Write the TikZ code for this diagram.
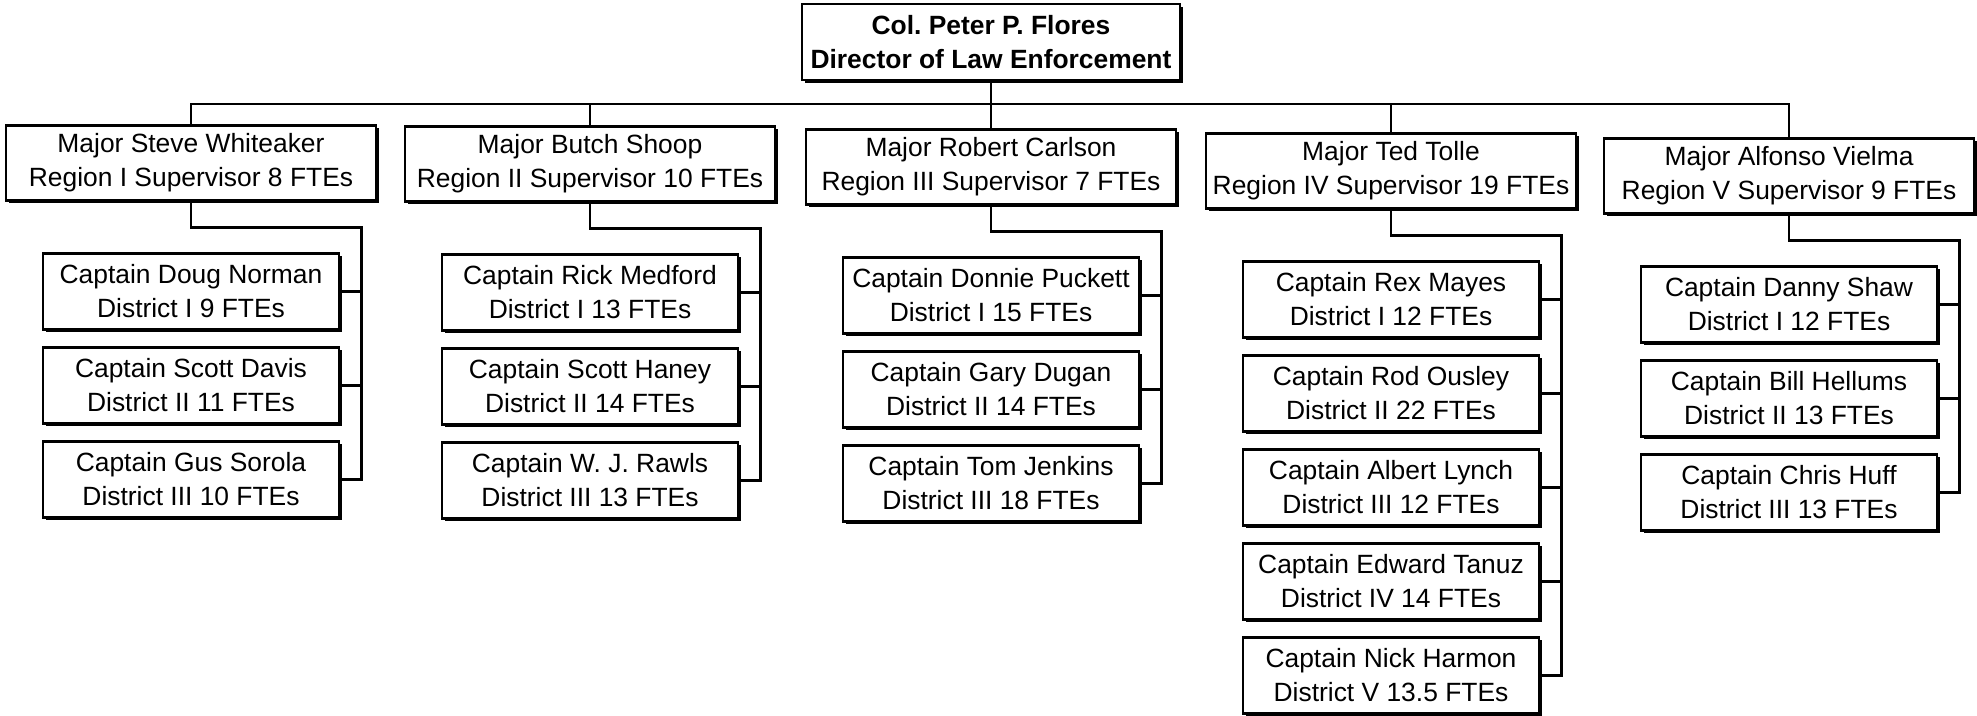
\documentclass[tikz,border=0pt]{standalone}
\usepackage{fontspec}
\setmainfont{Liberation Sans}
\usepackage{tikz}
\usetikzlibrary{positioning, shadows, calc}
\frenchspacing
\tikzset{
    boss/.style={rectangle, draw=black, fill=white, line width=1.4pt, minimum width=189pt, minimum height=38pt,
                 text centered, align=center, inner sep=1pt, font=\fontsize{13.2}{17}\selectfont\bfseries,
                 drop shadow={shadow xshift=1.5pt, shadow yshift=-1.5pt, fill=black, opacity=1}},
    major/.style={rectangle, draw=black, fill=white, line width=1.4pt, minimum width=185pt, minimum height=37.5pt,
                  text centered, align=center, inner sep=1pt, font=\fontsize{13.2}{17}\selectfont,
                  drop shadow={shadow xshift=1.5pt, shadow yshift=-1.5pt, fill=black, opacity=1}},
    capt/.style={rectangle, draw=black, fill=white, line width=1.4pt, minimum width=148pt, minimum height=38pt,
                 text centered, align=center, inner sep=1pt, font=\fontsize{13.2}{17}\selectfont,
                 drop shadow={shadow xshift=1.5pt, shadow yshift=-1.5pt, fill=black, opacity=1}},
    link/.style={line width=1.4pt, black}
}
\begin{document}
\begin{tikzpicture}[x=0.5pt, y=-0.5pt]
    \useasboundingbox (0,0) rectangle (1977,716);

    % Director
    \node[boss] (dir) at (991,42) {Col. Peter P. Flores\\Director of Law Enforcement};
    \coordinate (bus) at (991,104);

    % Regions
    \node[major] (r1) at (191,163) {Major Steve Whiteaker\\Region I Supervisor 8 FTEs};
    \node[major] (r2) at (590,164) {Major Butch Shoop\\Region II Supervisor 10 FTEs};
    \node[major] (r3) at (991,167) {Major Robert Carlson\\Region III Supervisor 7 FTEs};
    \node[major] (r4) at (1391,171) {Major Ted Tolle\\Region IV Supervisor 19 FTEs};
    \node[major] (r5) at (1789,176) {Major Alfonso Vielma\\Region V Supervisor 9 FTEs};

    % Region I districts
    \node[capt, below=25pt of r1] (c11) {Captain Doug Norman\\District I 9 FTEs};
    \node[capt, below=7.6pt of c11] (c12) {Captain Scott Davis\\District II 11 FTEs};
    \node[capt, below=7.6pt of c12] (c13) {Captain Gus Sorola\\District III 10 FTEs};

    % Region II districts
    \node[capt, below=25pt of r2] (c21) {Captain Rick Medford\\District I 13 FTEs};
    \node[capt, below=7.6pt of c21] (c22) {Captain Scott Haney\\District II 14 FTEs};
    \node[capt, below=7.6pt of c22] (c23) {Captain W. J. Rawls\\District III 13 FTEs};

    % Region III districts
    \node[capt, below=25pt of r3] (c31) {Captain Donnie Puckett\\District I 15 FTEs};
    \node[capt, below=7.6pt of c31] (c32) {Captain Gary Dugan\\District II 14 FTEs};
    \node[capt, below=7.6pt of c32] (c33) {Captain Tom Jenkins\\District III 18 FTEs};

    % Region IV districts
    \node[capt, below=25pt of r4] (c41) {Captain Rex Mayes\\District I 12 FTEs};
    \node[capt, below=7.6pt of c41] (c42) {Captain Rod Ousley\\District II 22 FTEs};
    \node[capt, below=7.6pt of c42] (c43) {Captain Albert Lynch\\District III 12 FTEs};
    \node[capt, below=7.6pt of c43] (c44) {Captain Edward Tanuz\\District IV 14 FTEs};
    \node[capt, below=7.6pt of c44] (c45) {Captain Nick Harmon\\District V 13.5 FTEs};

    % Region V districts
    \node[capt, below=25pt of r5] (c51) {Captain Danny Shaw\\District I 12 FTEs};
    \node[capt, below=7.6pt of c51] (c52) {Captain Bill Hellums\\District II 13 FTEs};
    \node[capt, below=7.6pt of c52] (c53) {Captain Chris Huff\\District III 13 FTEs};

    % Director to regions
    \draw[link] (dir.south) -- (bus);
    \draw[link] (r1.north) |- (bus) -| (r5.north);
    \foreach \r in {2,3,4}
        \draw[link] (r\r.north) -- (r\r.north |- bus);

    % Regions to districts
    \foreach \r/\n in {1/3,2/3,3/3,4/5,5/3} {
        \coordinate (v\r) at ([xshift=10.5pt]c\r\n.east);
        \draw[link] (r\r.south) -- ++(0,26) -| (v\r) -- (c\r\n.east);
        \foreach \i in {1,...,\n}
            \draw[link] (c\r\i.east) -- (c\r\i.east -| v\r);
    }
\end{tikzpicture}
\end{document}
